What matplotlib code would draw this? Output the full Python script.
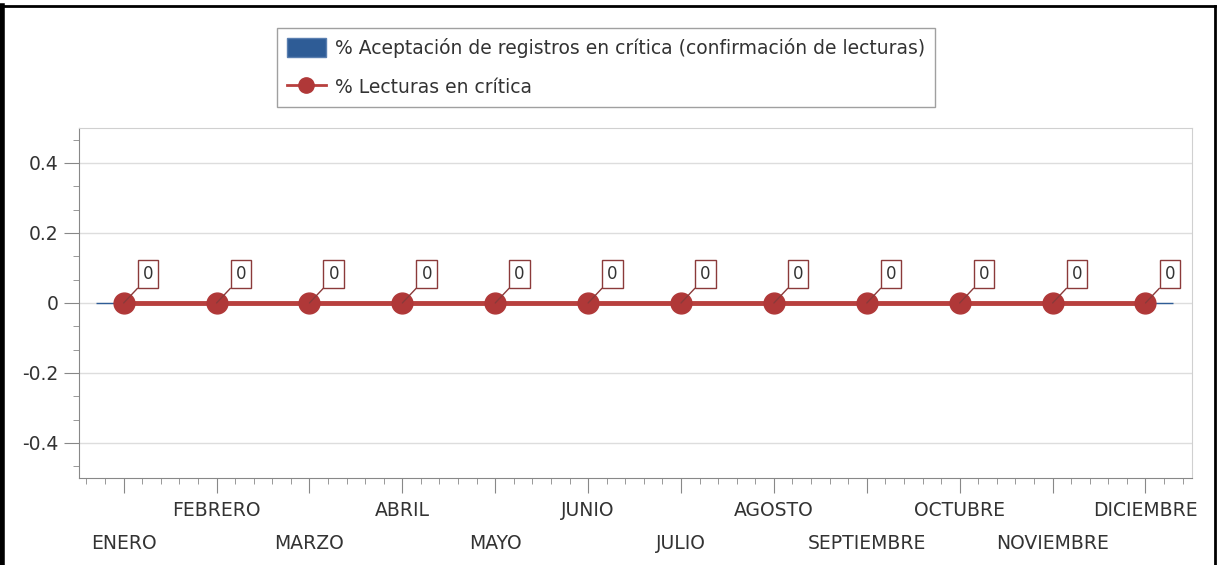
import matplotlib.pyplot as plt
from matplotlib.lines import Line2D
from matplotlib.patches import Patch
from matplotlib.ticker import MultipleLocator, FixedLocator
import numpy as np

months = ["ENERO", "FEBRERO", "MARZO", "ABRIL", "MAYO", "JUNIO",
          "JULIO", "AGOSTO", "SEPTIEMBRE", "OCTUBRE", "NOVIEMBRE", "DICIEMBRE"]
aceptacion = [0, 0, 0, 0, 0, 0, 0, 0, 0, 0, 0, 0]
lecturas = [0, 0, 0, 0, 0, 0, 0, 0, 0, 0, 0, 0]
y_ticks = [-0.4, -0.2, 0, 0.2, 0.4]
y_labels = ["-0.4", "-0.2", "0", "0.2", "0.4"]

label_aceptacion = "% Aceptación de registros en crítica (confirmación de lecturas)"
label_lecturas = "% Lecturas en crítica"

blue = "#2e5c96"
red = "#b8403e"
text_col = "#333333"
font_size = 13.5

plt.rc('font', family='DejaVu Sans', size=font_size)

fig = plt.figure(figsize=(12.2, 5.65), dpi=100)
ax = fig.add_axes([0.0648, 0.154, 0.9122, 0.6195])

x = np.arange(len(months))
ax.bar(x, aceptacion, width=0.6, color=blue, edgecolor=blue, linewidth=1, zorder=2)
ax.plot(x, lecturas, color=red, linewidth=3.5, marker='o', markersize=15,
        markerfacecolor="#b03838", markeredgecolor="#b03838", zorder=3)

for xi, v in zip(x, lecturas):
    ax.annotate(str(v), xy=(xi, v), xytext=(17.5, 21), textcoords='offset points',
                ha='center', va='center', fontsize=12, color=text_col, zorder=5,
                bbox=dict(boxstyle='square,pad=0.3', fc='white', ec='#8b3a3a', lw=1),
                arrowprops=dict(arrowstyle='-', color='#8b3a3a', lw=1,
                                shrinkA=0, shrinkB=0, relpos=(0, 0)))

ax.set_xlim(-0.48, 11.5)
ax.set_ylim(-0.5, 0.5)

ax.yaxis.set_major_locator(FixedLocator(y_ticks))
ax.set_yticklabels(y_labels)
ax.yaxis.set_minor_locator(MultipleLocator(0.2 / 3))
ax.xaxis.set_major_locator(FixedLocator(x))
ax.xaxis.set_minor_locator(MultipleLocator(0.2))
ax.set_xticklabels(months)

ax.tick_params(axis='both', which='major', colors='#888888', labelcolor=text_col,
               labelsize=font_size, length=11)
ax.tick_params(axis='both', which='minor', colors='#888888', length=4)
ax.tick_params(axis='y', which='major', pad=4)

# staggered month labels: even months on the lower row
for i, tick in enumerate(ax.xaxis.get_major_ticks()):
    tick.set_pad(5.5 if i % 2 else 29.5)

ax.grid(True, axis='y', which='major', color='#dddddd', linewidth=1, zorder=0)
ax.set_axisbelow(True)
for side in ['left', 'bottom']:
    ax.spines[side].set_color('#888888')
for side in ['top', 'right']:
    ax.spines[side].set_color('#d0d0d0')

handles = [
    Patch(facecolor=blue, edgecolor="#5a7fb0", label=label_aceptacion),
    Line2D([0], [0], color=red, linewidth=2, marker='o', markersize=11,
           markerfacecolor="#b03838", markeredgecolor="#b03838", label=label_lecturas),
]
fig.legend(handles=handles, loc='upper center', bbox_to_anchor=(0.4967, 0.9504),
           frameon=True, fancybox=False, edgecolor='#a0a0a0', framealpha=1,
           fontsize=font_size, handlelength=2.1, handleheight=1.2, labelspacing=1.0,
           borderpad=0.53, borderaxespad=0, handletextpad=0.5, labelcolor=text_col)

# outer black frame
fig.add_artist(Line2D([0.002, 0.002], [0, 0.99], color='black', linewidth=4,
                      transform=fig.transFigure))
fig.add_artist(Line2D([0, 0.9955], [0.9885, 0.9885], color='black', linewidth=2,
                      transform=fig.transFigure))
fig.add_artist(Line2D([0.9955, 0.9955], [0, 0.9885], color='black', linewidth=2,
                      transform=fig.transFigure))

fig.savefig("out.png", dpi=100)
